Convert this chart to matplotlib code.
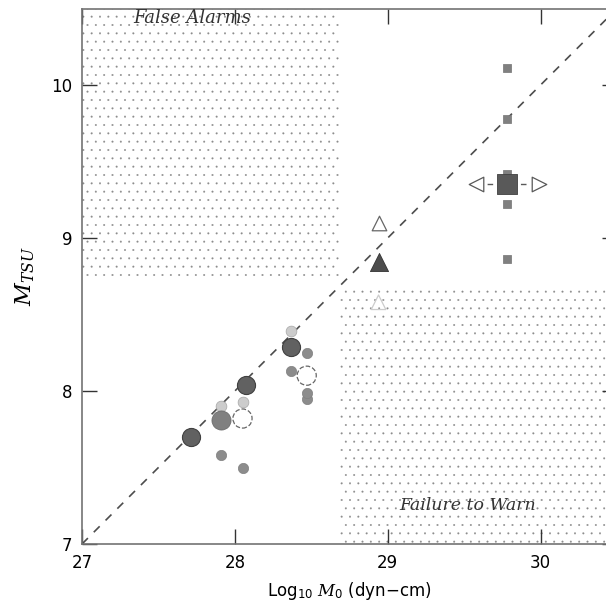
import matplotlib
matplotlib.use("Agg")
import matplotlib.pyplot as plt
from matplotlib.patches import Rectangle

plt.rcParams['font.family'] = ['DejaVu Sans']
plt.rcParams['mathtext.fontset'] = 'custom'
plt.rcParams['mathtext.it'] = 'DejaVu Serif:italic'
plt.rcParams['mathtext.rm'] = 'DejaVu Sans'
plt.rcParams['hatch.linewidth'] = 0.2

# circles: log10 moment vs tsunami magnitude
dark_x = [27.71, 28.07, 28.37]
dark_y = [7.70, 8.04, 8.29]
mid_big_x = [27.91]
mid_big_y = [7.81]
mid_x = [27.91, 28.05, 28.47, 28.37, 28.47, 28.47]
mid_y = [7.58, 7.50, 8.25, 8.13, 7.95, 7.99]
light_x = [27.91, 28.05, 28.37]
light_y = [7.90, 7.93, 8.39]
open_x = [28.05, 28.47]
open_y = [7.82, 8.10]

# squares (single event, range of estimates)
sq_x = [29.78, 29.78, 29.78, 29.78, 29.78]
sq_y = [10.11, 9.78, 9.42, 9.22, 8.86]
sq_big_x = [29.78]
sq_big_y = [9.35]
tri_left_x = [29.58]
tri_right_x = [29.99]
tri_y = [9.35]

# triangles
tri_open_x = [28.94]
tri_open_y = [9.10]
tri_fill_x = [28.94]
tri_fill_y = [8.84]
tri_light_x = [28.94]
tri_light_y = [8.58]

fig = plt.figure(figsize=(6.06, 6.03), dpi=100)
ax = fig.add_axes([82/606, 59/603, 535/606, 535.5/603])
ax.set_xlim(27, 30.5)
ax.set_ylim(7, 10.5)

# shaded zones
ax.add_patch(Rectangle((27, 8.72), 1.69, 1.78, fill=False, hatch='..',
                       edgecolor='0.55', lw=0, zorder=0))
ax.add_patch(Rectangle((28.69, 7), 1.81, 1.66, fill=False, hatch='..',
                       edgecolor='0.55', lw=0, zorder=0))
ax.text(27.72, 10.44, 'False Alarms', family='DejaVu Serif', style='italic',
        fontsize=13, ha='center', va='center', color='0.2')
ax.text(29.52, 7.25, 'Failure to Warn', family='DejaVu Serif', style='italic',
        fontsize=12.5, ha='center', va='center', color='0.2')

# 1:1 line
ax.plot([27, 30.5], [7, 10.5], ls=(0, (5, 5)), color='0.3', lw=1.2, zorder=1)

ax.scatter(light_x, light_y, s=60, color='0.8', edgecolors='0.65', lw=0.5, zorder=2)
ax.scatter(mid_x, mid_y, s=55, color='0.55', edgecolors='0.5', lw=0.5, zorder=3)
ax.scatter(mid_big_x, mid_big_y, s=190, color='0.5', edgecolors='0.4', lw=0.5, zorder=3)
ax.scatter(dark_x, dark_y, s=170, color='0.38', edgecolors='0.25', lw=0.8, zorder=3)
ax.scatter(open_x, open_y, s=190, facecolors='none', edgecolors='0.4',
           linestyle='--', lw=0.9, zorder=3)

ax.plot([tri_left_x[0], tri_right_x[0]], [tri_y[0], tri_y[0]], ls=(0, (4, 4)),
        color='0.35', lw=1.0, zorder=2)
ax.scatter(tri_left_x, tri_y, marker='<', s=110, facecolors='white',
           edgecolors='0.35', lw=0.9, zorder=3)
ax.scatter(tri_right_x, tri_y, marker='>', s=110, facecolors='white',
           edgecolors='0.35', lw=0.9, zorder=3)
ax.scatter(sq_x, sq_y, marker='s', s=28, color='0.5', edgecolors='0.45', lw=0.5, zorder=3)
ax.scatter(sq_big_x, sq_big_y, marker='s', s=190, color='0.35', edgecolors='0.25',
           lw=0.6, zorder=4)

ax.scatter(tri_open_x, tri_open_y, marker='^', s=110, facecolors='white',
           edgecolors='0.4', lw=0.9, zorder=3)
ax.scatter(tri_fill_x, tri_fill_y, marker='^', s=170, color='0.3', edgecolors='0.2',
           lw=0.6, zorder=3)
ax.scatter(tri_light_x, tri_light_y, marker='^', s=110, facecolors='none',
           edgecolors='0.8', lw=0.9, zorder=3)

ax.set_xticks([27, 28, 29, 30])
ax.set_yticks([7, 8, 9, 10])
ax.tick_params(direction='in', length=11, width=1.0, color='0.2', labelsize=12,
               top=True, right=True, pad=7)
for s in ax.spines.values():
    s.set_color('0.45')
    s.set_linewidth(1.2)

ax.set_xlabel(r'Log$_{10}$ $M_0$ (dyn$-$cm)', fontsize=12, labelpad=6)
ax.set_ylabel(r'$M_{TSU}$', fontsize=16, labelpad=10)

fig.savefig('out.png', dpi=100)
